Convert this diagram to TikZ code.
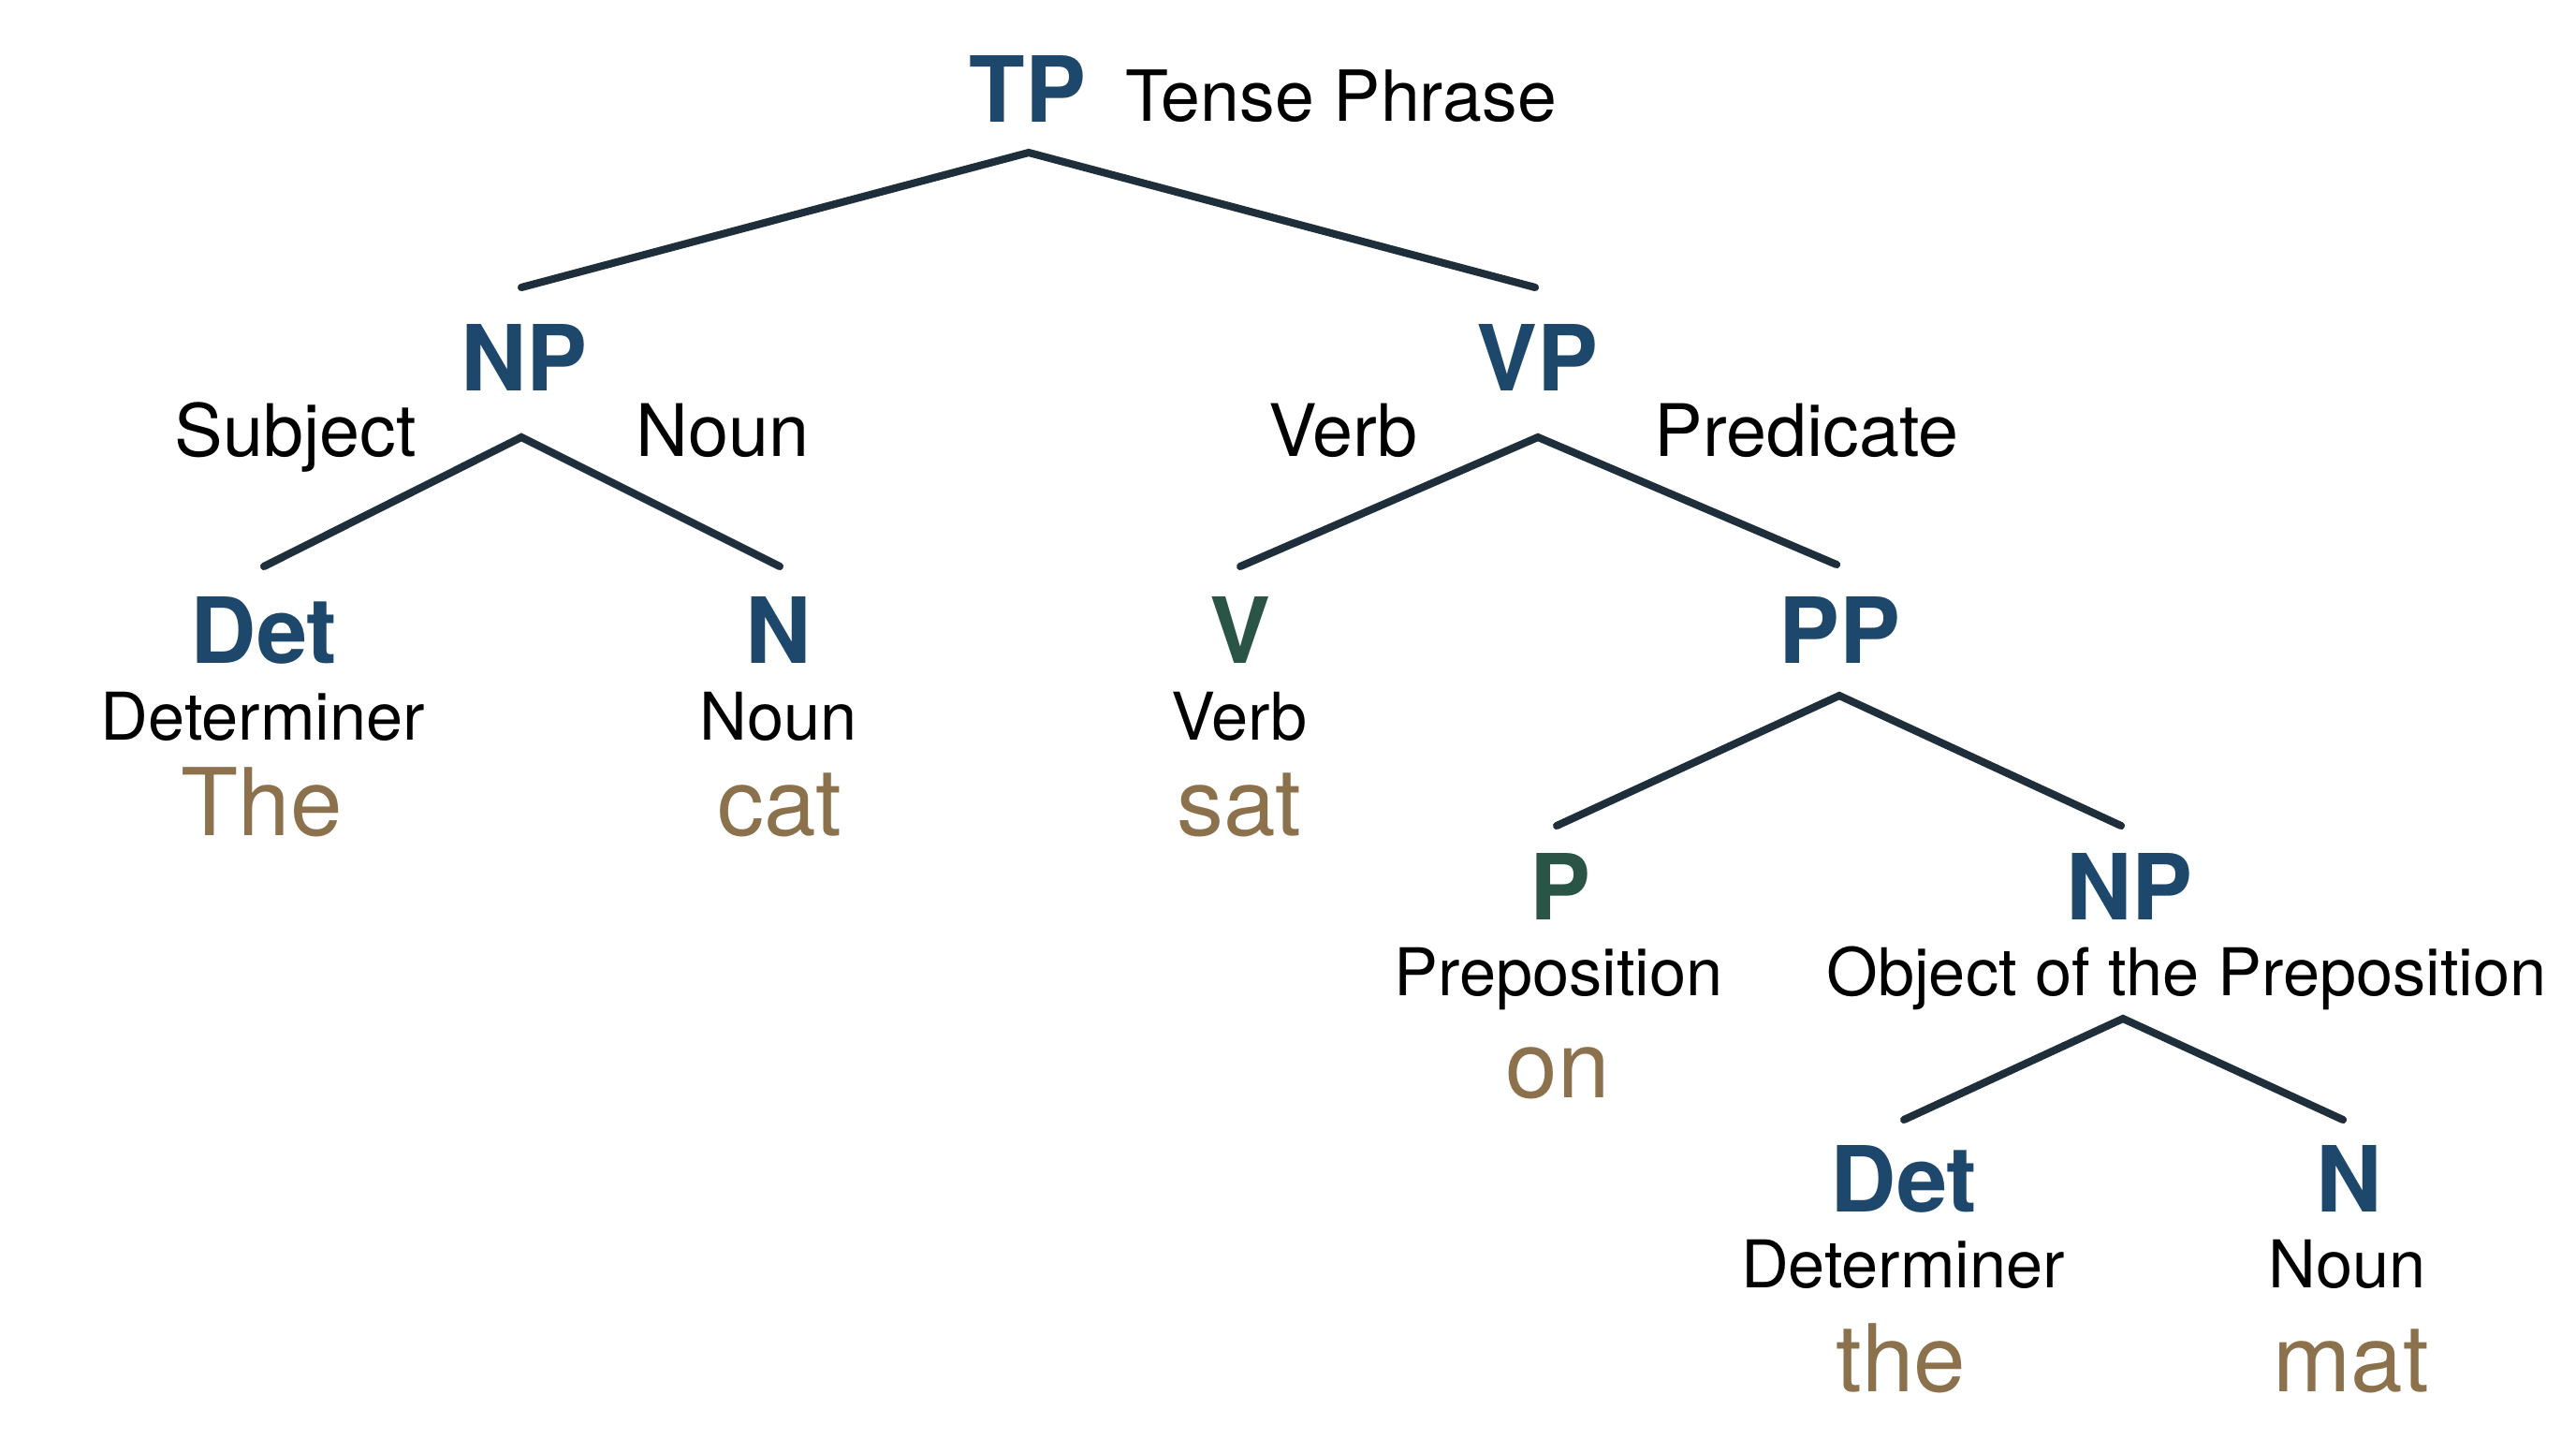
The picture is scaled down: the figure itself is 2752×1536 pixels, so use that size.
\documentclass[tikz,border=0pt]{standalone}
\usepackage{fontspec}
\setmainfont{TeX Gyre Heros}
\begin{document}
\definecolor{catblue}{HTML}{1D476B}
\definecolor{catgreen}{HTML}{2A5446}
\definecolor{wordbrown}{HTML}{8B714C}
\definecolor{linecol}{HTML}{1E2E3A}
\begin{tikzpicture}[x=0.01cm,y=-0.01cm,
  every node/.style={inner sep=0pt,outer sep=0pt,anchor=base},
  cat/.style={font=\fontsize{27.7}{30}\selectfont\bfseries,text=catblue},
  catg/.style={cat,text=catgreen},
  side/.style={font=\fontsize{22}{24}\selectfont,text=black},
  sub/.style={font=\fontsize{20}{22}\selectfont,text=black},
  word/.style={font=\fontsize{28.4}{30}\selectfont,text=wordbrown},
  branch/.style={draw=linecol,line width=2.3pt,line cap=round,line join=miter}]
\fill[white] (0,0) rectangle (2752,1536);
\useasboundingbox (0,0) rectangle (2752,1536);
% TP
\node[cat] (TP) at (1098,130) {TP};
\node[side,font=\fontsize{21.4}{24}\selectfont,anchor=base west] (TPl) at (1202,129) {Tense Phrase};
% NP / VP
\node[cat] (NP1) at (560,417) {NP};
\node[cat] (VP) at (1642,417) {VP};
\node[side] (NP1l) at (316,487) {Subject};
\node[side] (NP1r) at (772,487) {Noun};
\node[side] (VPl) at (1435,487) {Verb};
\node[side] (VPr) at (1930,487) {Predicate};
% level 3
\node[cat] (Det1) at (282,708) {Det};
\node[cat] (N1) at (832,708) {N};
\node[catg] (V) at (1325,708) {V};
\node[cat] (PP) at (1965,708) {PP};
\node[sub] (Det1s) at (281,790) {Determiner};
\node[sub] (N1s) at (832,790) {Noun};
\node[sub] (Vs) at (1324,790) {Verb};
\node[word] (Det1w) at (280,892) {The};
\node[word] (N1w) at (833,892) {cat};
\node[word] (Vw) at (1324,892) {sat};
% level 4
\node[catg] (P) at (1667,982) {P};
\node[cat] (NP2) at (2275,982) {NP};
\node[sub] (Ps) at (1665,1063) {Preposition};
\node[sub] (NP2s) at (2336,1063) {Object of the Preposition};
\node[word] (Pw) at (1664,1172) {on};
% level 5
\node[cat] (Det2) at (2034,1294) {Det};
\node[cat] (N2) at (2510,1294) {N};
\node[sub] (Det2s) at (2033,1375) {Determiner};
\node[sub] (N2s) at (2508,1375) {Noun};
\node[word] (Det2w) at (2031,1486) {the};
\node[word] (N2w) at (2512,1486) {mat};
% branch coordinates
\coordinate (TPa) at (1099,163);
\coordinate (TPb) at (557,307);
\coordinate (TPc) at (1640,307);
\coordinate (NP1a) at (557,467);
\coordinate (NP1b) at (282,605);
\coordinate (NP1c) at (833,605);
\coordinate (VPa) at (1643,467);
\coordinate (VPb) at (1325,605);
\coordinate (VPc) at (1962,603);
\coordinate (PPa) at (1965,743);
\coordinate (PPb) at (1663,882);
\coordinate (PPc) at (2266,882);
\coordinate (NP2a) at (2268,1088);
\coordinate (NP2b) at (2034,1196);
\coordinate (NP2c) at (2503,1196);
\draw[branch] (TPb) -- (TPa) -- (TPc);
\draw[branch] (NP1b) -- (NP1a) -- (NP1c);
\draw[branch] (VPb) -- (VPa) -- (VPc);
\draw[branch] (PPb) -- (PPa) -- (PPc);
\draw[branch] (NP2b) -- (NP2a) -- (NP2c);
\end{tikzpicture}
\end{document}
